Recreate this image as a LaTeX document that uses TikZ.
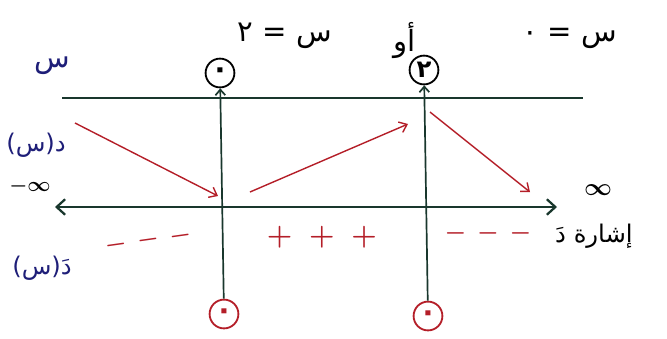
\documentclass[tikz,border=0pt]{standalone}
\usepackage{fontspec}
\usetikzlibrary{arrows.meta}
\newfontfamily\arabicfont[Script=Arabic]{DejaVu Sans}
\TeXXeTstate=1
\definecolor{linie}{RGB}{25,55,45}
\definecolor{rot}{RGB}{180,30,40}
\definecolor{blau}{RGB}{30,30,120}

\begin{document}
\begin{tikzpicture}[x=0.025cm,y=-0.025cm,
    kreis/.style={draw,circle,minimum size=0.72cm,inner sep=0pt,line width=1.3pt,font=\arabicfont\huge\bfseries},
    pfeil/.style={rot,line width=1pt,-{Straight Barb[length=5pt,width=8pt]}},
    schrift/.style={font=\arabicfont\huge}]
\useasboundingbox (0,0) rectangle (667,338);
    % Nullstellen oben:
    \node[schrift] (n0) at (570,38) {\beginR س = ٠\endR};
    \node[schrift] (oder) at (405,40) {\beginR أو\endR};
    \node[schrift] (n2) at (285,36) {\beginR س = ٢\endR};
    % Kreise oben und unten:
    \node[kreis] (t1) at (220,73) {٠};
    \node[kreis,font=\arabicfont\LARGE\bfseries] (t2) at (424,70) {٢};
    \node[kreis,rot] (b1) at (224,314) {٠};
    \node[kreis,rot] (b2) at (428,316) {٠};
    % obere Linie:
    \coordinate (ol) at (62,98);
    \coordinate (or) at (583,98);
    \draw[linie,line width=1.5pt] (ol) -- (or);
    % senkrechte Striche:
    \draw[linie,line width=1.2pt,-{Straight Barb[length=4pt,width=7pt]}] (b1) -- (t1);
    \draw[linie,line width=1.2pt,-{Straight Barb[length=4pt,width=7pt]}] (b2) -- (t2);
    % Zahlengerade:
    \coordinate (al) at (55,207);
    \coordinate (ar) at (557,207);
    \draw[linie,line width=1.6pt,{Straight Barb[length=6pt,width=11pt]}-{Straight Barb[length=6pt,width=11pt]}] (al) -- (ar);
    % rote Pfeile:
    \coordinate (p1) at (75,123); \coordinate (q1) at (218,196);
    \coordinate (p2) at (250,192); \coordinate (q2) at (408,124);
    \coordinate (p3) at (430,112); \coordinate (q3) at (530,192);
    \draw[pfeil] (p1) -- (q1);
    \draw[pfeil] (p2) -- (q2);
    \draw[pfeil] (p3) -- (q3);
    % Beschriftung links:
    \node[schrift,blau] (s) at (52,66) {\beginR س\endR};
    \node[blau,font=\arabicfont\LARGE] (ds) at (36,145) {\beginR د(س)\endR};
    \node[font=\Large\boldmath] (minf) at (30,186) {$-\infty$};
    \node[blau,font=\arabicfont\LARGE] (dds) at (42,268) {\beginR دَ(س)\endR};
    % Beschriftung rechts:
    \node[font=\LARGE\boldmath] (pinf) at (598,190) {$\infty$};
    \node[font=\arabicfont\LARGE] (vz) at (594,236) {\beginR إشارة دَ\endR};
    % Vorzeichen:
    \node[rot,font=\LARGE\boldmath,rotate=8] (m1) at (148,240) {$-\,-\,-$};
    \node[rot,font=\huge\boldmath] (pl) at (322,237) {$+\;+\;+$};
    \node[rot,font=\LARGE\boldmath] (m2) at (488,233) {$-\,-\,-$};
\end{tikzpicture}
\end{document}
